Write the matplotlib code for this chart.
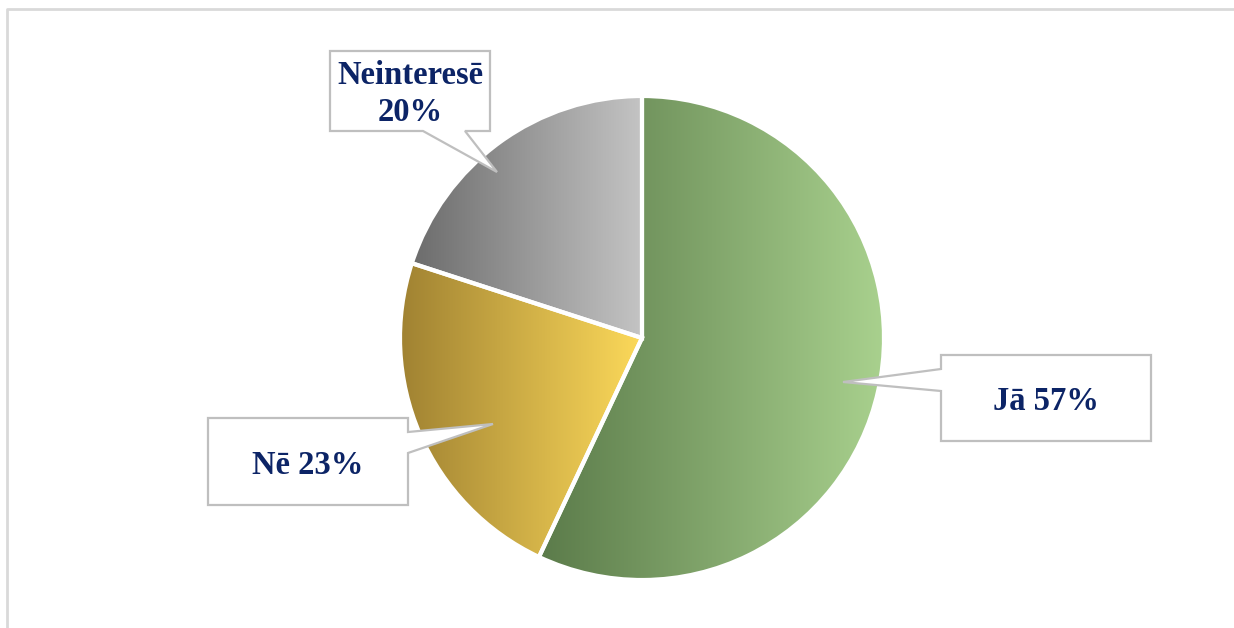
import numpy as np
import matplotlib.pyplot as plt
from matplotlib.colors import LinearSegmentedColormap
from matplotlib.patches import Polygon

# Data
categories = ["Jā", "Nē", "Neinteresē"]
values = [57, 23, 20]
label_texts = ["Jā 57%", "Nē 23%", "Neinteresē\n20%"]

# gradient colours (left -> right) per slice
grad_colors = [("#5b7b4a", "#a9d18e"), ("#a08232", "#fcd95a"), ("#6c6c6c", "#c4c4c4")]

W, H = 1234, 628
fig = plt.figure(figsize=(W / 100, H / 100), dpi=100)
ax = fig.add_axes([0, 0, 1, 1])

# chart frame (top and left border)
ax.plot([7, 7, W], [0, H - 9, H - 9], color="#d9d9d9", lw=2, solid_capstyle="butt")

cx, cy, r = 642, H - 338, 242
wedges, _ = ax.pie(values, startangle=90, counterclock=False, center=(cx, cy), radius=r,
                   wedgeprops=dict(facecolor="none", edgecolor="white", linewidth=3))
for w in wedges:
    w.set_zorder(3)

grad = np.linspace(0, 1, 256).reshape(1, -1)
for w, (c0, c1) in zip(wedges, grad_colors):
    ext = w.get_path().get_extents()
    cmap = LinearSegmentedColormap.from_list("g", [c0, c1])
    im = ax.imshow(grad, cmap=cmap, aspect="auto",
                   extent=[ext.x0, ext.x1, ext.y0, ext.y1], zorder=2, interpolation="bilinear")
    im.set_clip_path(w)

ax.set_xlim(0, W)
ax.set_ylim(0, H)
ax.set_aspect("equal")
ax.axis("off")


def callout(x0, y0, x1, y1, pointer, side, text, dy=4):
    # box in image coords (y down), pointer = (base_a, base_b, tip)
    a, b, tip = pointer
    Y = lambda v: H - v
    if side == "bottom":
        pts = [(x0, y0), (x1, y0), (x1, y1), (b, y1), tip, (a, y1), (x0, y1)]
    elif side == "right":
        pts = [(x0, y0), (x1, y0), (x1, a), tip, (x1, b), (x1, y1), (x0, y1)]
    else:  # left
        pts = [(x0, y0), (x1, y0), (x1, y1), (x0, y1), (x0, b), tip, (x0, a)]
    poly = Polygon([(px, Y(py)) for px, py in pts], closed=True, facecolor="white",
                   edgecolor="#bfbfbf", lw=1.6, zorder=5)
    ax.add_patch(poly)
    ax.text((x0 + x1) / 2, Y((y0 + y1) / 2 + dy), text, ha="center", va="center",
            fontfamily="Liberation Serif", fontweight="bold", fontsize=23.5,
            color="#0c2466", linespacing=1.28, zorder=6)


callout(941, 355, 1151, 441, (369, 391, (843, 382)), "left", label_texts[0])
callout(208, 418, 408, 505, (432, 453, (493, 424)), "right", label_texts[1])
callout(330, 51, 490, 131, (423, 465, (497, 172)), "bottom", label_texts[2], dy=3)

fig.savefig("out.png", dpi=100, facecolor="white")
